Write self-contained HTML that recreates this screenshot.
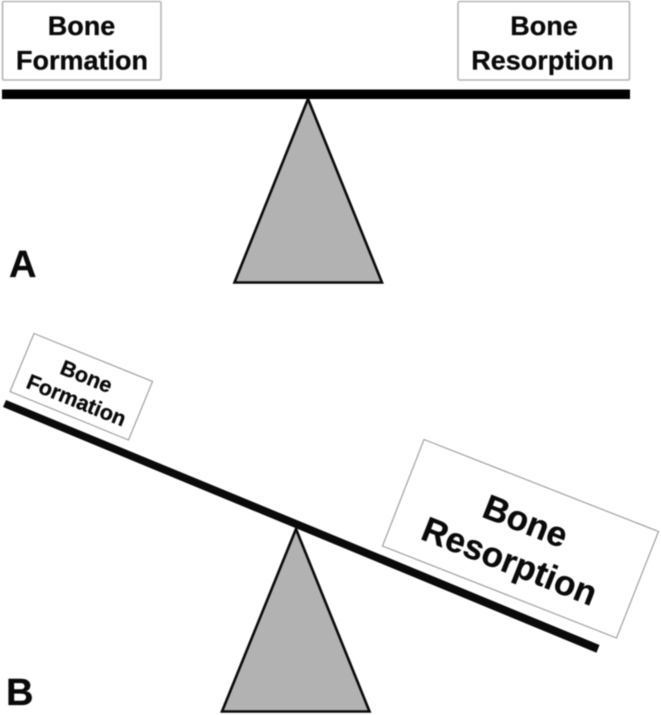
<!DOCTYPE html>
<html>
<head>
<meta charset="utf-8">
<style>
html,body{margin:0;padding:0;background:#fff;width:661px;height:715px;overflow:hidden}
svg{display:block;filter:blur(0.5px)}
text{font-family:"Liberation Sans",Arial,sans-serif;font-weight:bold;fill:#0a0a0a;stroke:#0a0a0a;stroke-width:0.3px}
</style>
</head>
<body>
<svg width="661" height="715" viewBox="0 0 661 715" xmlns="http://www.w3.org/2000/svg">
  <rect x="2.5" y="1.5" width="158.5" height="78.5" rx="1.5" fill="#fff" stroke="#b5b5b5" stroke-width="1.6"/>
  <rect x="458" y="1.5" width="171.5" height="78.5" rx="1.5" fill="#fff" stroke="#b5b5b5" stroke-width="1.6"/>
  <text x="81.5" y="35" font-size="27" text-anchor="middle">Bone</text>
  <text x="82" y="69.5" font-size="27" text-anchor="middle">Formation</text>
  <text x="544" y="35" font-size="27" text-anchor="middle">Bone</text>
  <text x="542.5" y="69.5" font-size="27" text-anchor="middle">Resorption</text>
  <rect x="2" y="89.5" width="628" height="9.5" fill="#000"/>
  <polygon points="308,99 234.5,282.5 382,282.5" fill="#b2b2b2" stroke="#0a0a0a" stroke-width="2.6" stroke-linejoin="miter"/>
  <text x="9" y="277" font-size="38">A</text>

  <polygon points="34,333.5 152.5,381.5 128.5,440 10,391.5" fill="#fff" stroke="#a0a0a0" stroke-width="1.2"/>
  <polygon points="424,439.5 658.5,531.5 616.5,638 382.5,546" fill="#fff" stroke="#a0a0a0" stroke-width="1.2"/>
  <text transform="translate(83.7 383.3) rotate(22)" font-size="21.5" text-anchor="middle">Bone</text>
  <text transform="translate(73.7 407) rotate(22)" font-size="21.5" text-anchor="middle">Formation</text>
  <text transform="translate(521.2 532.3) rotate(21.5)" font-size="35" text-anchor="middle">Bone</text>
  <text transform="translate(505.2 572.3) rotate(21.5)" font-size="35" text-anchor="middle">Resorption</text>
  <polygon points="6,400 599.5,645 596.5,652.7 3,407" fill="#0a0a0a"/>
  <polygon points="296,529 222,711.5 369.5,711.5" fill="#b2b2b2" stroke="#0a0a0a" stroke-width="2.6" stroke-linejoin="miter"/>
  <text x="6" y="705" font-size="38">B</text>
</svg>
</body>
</html>
